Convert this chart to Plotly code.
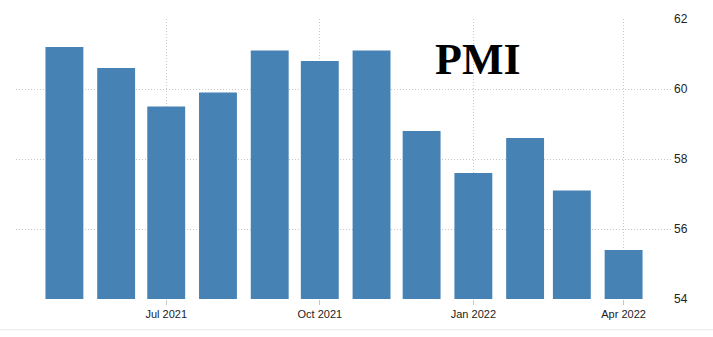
import plotly.graph_objects as go

months = ["2021-05-01", "2021-06-01", "2021-07-01", "2021-08-01", "2021-09-01", "2021-10-01",
          "2021-11-01", "2021-12-01", "2022-01-01", "2022-02-01", "2022-03-01", "2022-04-01"]
pmi = [61.2, 60.6, 59.5, 59.9, 61.1, 60.8, 61.1, 58.8, 57.6, 58.6, 57.1, 55.4]
y_ticks = [54, 56, 58, 60, 62]

bar_width_ms = 22.7 * 24 * 3600 * 1000

fig = go.Figure()
fig.add_trace(go.Bar(
    x=months, y=[v - 54 for v in pmi], base=54,
    width=[bar_width_ms] * len(months),
    marker=dict(color="#4682B4", line=dict(width=0)),
    hoverinfo="skip",
))

fig.update_layout(
    width=713, height=337,
    margin=dict(l=16, r=41, t=15, b=38),
    paper_bgcolor="white", plot_bgcolor="white",
    showlegend=False,
    font=dict(family="Liberation Sans, Arial, sans-serif", size=11, color="#222222"),
    xaxis=dict(
        type="date",
        range=["2021-04-02", "2022-04-30"],
        tick0="2021-01-01", dtick="M3", tickformat="%b %Y",
        showgrid=True, gridcolor="#c8c8c8", griddash="1px,2px", gridwidth=1,
        ticks="outside", ticklen=5, tickcolor="#c8c8c8",
        showline=False, zeroline=False,
        tickfont=dict(size=11, color="#222222"),
    ),
    yaxis=dict(
        side="right",
        range=[54, 62],
        tickvals=y_ticks,
        showgrid=True, gridcolor="#c8c8c8", griddash="1px,2px", gridwidth=1,
        zeroline=False, showline=False,
        ticks="", ticklabelstandoff=1,
        tickfont=dict(size=12, color="#222222"),
    ),
    annotations=[dict(
        text="<b>PMI</b>", x=0.705, y=0.855, xref="paper", yref="paper",
        xanchor="center", yanchor="middle", showarrow=False,
        font=dict(family="Liberation Serif, Times New Roman, serif", size=44, color="black"),
    )],
    shapes=[dict(type="line", xref="paper", yref="paper", x0=-0.03, x1=1.1,
                 y0=-0.11, y1=-0.11, line=dict(color="#e6e6e6", width=1))],
)

fig.write_html("out.html")
